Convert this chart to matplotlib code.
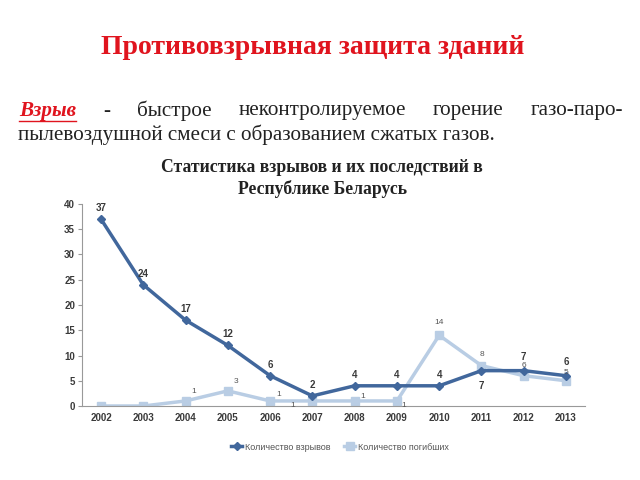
import matplotlib.pyplot as plt

years = ['2002', '2003', '2004', '2005', '2006', '2007',
         '2008', '2009', '2010', '2011', '2012', '2013']
explosions = [37, 24, 17, 12, 6, 2, 4, 4, 4, 7, 7, 6]
deaths = [0, 0, 1, 3, 1, 1, 1, 1, 14, 8, 6, 5]
legend_labels = ['Количество взрывов', 'Количество погибших']

dark = '#41679c'
light = '#b9cde4'
serif = ['Liberation Serif', 'DejaVu Serif']
sans = ['Liberation Sans', 'DejaVu Sans']

fig = plt.figure(figsize=(6.4, 4.8), dpi=100)

# header text
fig.text(313 / 640, 1 - 47 / 480, 'Противовзрывная защита зданий', family=serif,
         fontsize=20, weight='bold', color='#e0141e', ha='center', va='center')

# first line is justified, so place words one by one
words = [('Взрыв', 19), ('-', 103), ('быстрое', 137), ('неконтролируемое', 239),
         ('горение', 433), ('газо-паро-', 531)]
for w, x in words:
    if w == 'Взрыв':
        fig.text(x / 640, 1 - 111 / 480, w, family=serif, fontsize=15.2,
                 weight='bold', style='italic', color='#e0141e', va='center')
        fig.add_artist(plt.Line2D([19 / 640, 76 / 640], [1 - 121 / 480] * 2,
                                  color='#e0141e', lw=1))
    else:
        fig.text(x / 640, 1 - 111 / 480, w, family=serif, fontsize=15.2,
                 color='#222222', va='center')
fig.text(18 / 640, 1 - 135 / 480, 'пылевоздушной смеси с образованием сжатых газов.',
         family=serif, fontsize=15.2, color='#222222', va='center')

fig.text(322 / 640, 1 - 167 / 480, 'Статистика взрывов и их последствий в',
         family=serif, fontsize=12.7, weight='bold', color='#222222',
         ha='center', va='center')
fig.text(322 / 640, 1 - 189 / 480, 'Республике Беларусь',
         family=serif, fontsize=12.7, weight='bold', color='#222222',
         ha='center', va='center')

ax = fig.add_axes([82 / 640, 1 - 406 / 480, 503 / 640, 202 / 480])
x = list(range(len(years)))
ax.plot(x, deaths, color=light, lw=2.5, marker='s', ms=6, zorder=2,
        label=legend_labels[1])
ax.plot(x, explosions, color=dark, lw=2.5, marker='D', ms=4, zorder=3,
        label=legend_labels[0])

# labels for explosions
for i, v in enumerate(explosions):
    dy = 8
    if years[i] == '2011':
        dy = -11
    elif years[i] in ('2012', '2013'):
        dy = 10
    ax.annotate(str(v), (i, v), xytext=(0, dy), textcoords='offset points',
                ha='center', va='center', fontsize=7, weight='bold',
                color='#3a3a3a', family=sans, zorder=5)

# labels for deaths
death_offsets = {'2004': (6, 7), '2005': (6, 7), '2006': (6, 5), '2007': (-14, -3),
                 '2008': (6, 3), '2009': (5, -3), '2010': (0, 9), '2011': (0, 8),
                 '2012': (0, 7), '2013': (0, 6)}
for i, v in enumerate(deaths):
    if years[i] in death_offsets:
        ax.annotate(str(v), (i, v), xytext=death_offsets[years[i]],
                    textcoords='offset points', ha='center', va='center',
                    fontsize=6, color='#555555', family=sans, zorder=5)

ax.set_xlim(-0.45, 11.45)
ax.set_ylim(0, 40)
ax.set_yticks(range(0, 41, 5))
ax.set_xticks(x)
ax.set_xticklabels(years, family=sans, fontsize=7, weight='bold', color='#3a3a3a')
for t in ax.get_yticklabels():
    t.set_family(sans)
    t.set_fontsize(7)
    t.set_color('#3a3a3a')
    t.set_weight('bold')
ax.tick_params(axis='y', length=3, color='#999999', pad=2)
ax.tick_params(axis='x', length=0, pad=5)
for s in ['top', 'right']:
    ax.spines[s].set_visible(False)
ax.spines['left'].set_color('#999999')
ax.spines['bottom'].set_color('#999999')

h, l = ax.get_legend_handles_labels()
fig.legend(h[::-1], l[::-1], loc='center', bbox_to_anchor=(340 / 640, 1 - 447 / 480),
           ncol=2, frameon=False, prop={'family': sans, 'size': 6.5},
           handlelength=1.2, handletextpad=0.3, columnspacing=1.5,
           labelcolor='#555555')

fig.savefig('out.png', dpi=100)
